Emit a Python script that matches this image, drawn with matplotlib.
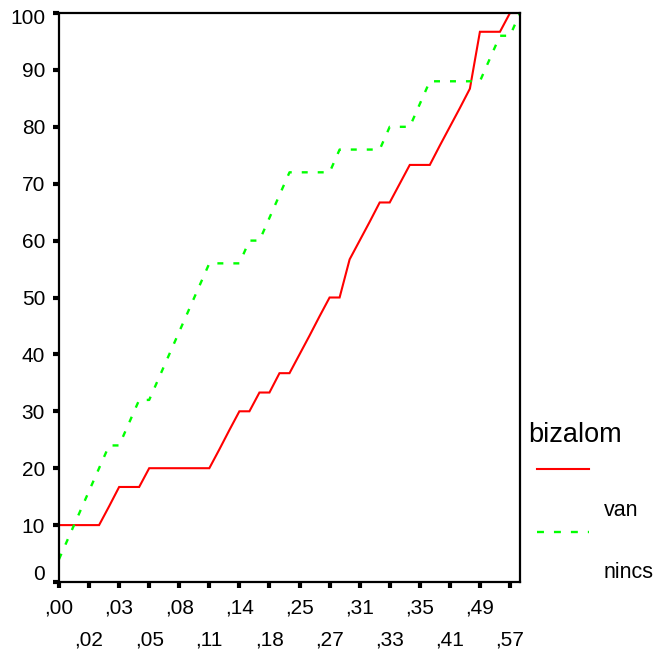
import matplotlib
matplotlib.use("Agg")
import matplotlib.pyplot as plt
from matplotlib.lines import Line2D
from matplotlib.transforms import ScaledTranslation

plt.rcParams["font.family"] = ["Liberation Sans", "DejaVu Sans"]
plt.rcParams["lines.scale_dashes"] = False

# cumulative percent per category (47 categories, every third one labelled)
tick_labels = [",00", ",02", ",03", ",05", ",08", ",11", ",14", ",18",
               ",25", ",27", ",31", ",33", ",35", ",41", ",49", ",57"]

van = [10, 10, 10, 10, 10, 13.3, 16.7, 16.7, 16.7, 20, 20, 20, 20, 20, 20, 20,
       23.3, 26.7, 30, 30, 33.3, 33.3, 36.7, 36.7, 40, 43.3, 46.7, 50, 50,
       56.7, 60, 63.3, 66.7, 66.7, 70, 73.3, 73.3, 73.3, 76.7, 80, 83.3, 86.7,
       96.7, 96.7, 96.7, 100, 100]

nincs = [4, 8, 12, 16, 20, 24, 24, 28, 32, 32, 36, 40, 44, 48, 52, 56,
         56, 56, 56, 60, 60, 64, 68, 72, 72, 72, 72, 72, 76, 76, 76, 76, 76,
         80, 80, 80, 84, 88, 88, 88, 88, 88, 88, 92, 96, 96, 100]

x = list(range(len(van)))

fig = plt.figure(figsize=(6.56, 6.54), dpi=100)
ax = fig.add_axes([59 / 656, 1 - 582 / 654, 461 / 656, 569 / 654])

ax.plot(x, van, color="#ff0000", lw=1.5, solid_joinstyle="miter")
ax.plot(x, nincs, color="#00ff00", lw=1.7, dashes=(4.3, 7.2))

ax.set_xlim(0, len(van) - 1)
ax.set_ylim(0, 100)

ax.set_yticks(range(0, 101, 10))
ax.set_xticks(x[::3])
ax.set_xticklabels([lab if i % 2 == 0 else "\n" + lab
                    for i, lab in enumerate(tick_labels)],
                   linespacing=1.85)

for s in ax.spines.values():
    s.set_linewidth(1.6)
ax.tick_params(axis="both", length=4, width=3, labelsize=15, pad=6,
               color="black")
ax.tick_params(axis="x", pad=8)

# lift the zero label off the x axis
ylabels = ax.get_yticklabels()
ylabels[0].set_transform(ylabels[0].get_transform()
                         + ScaledTranslation(0, 9 / 100, fig.dpi_scale_trans))
ylabels[-1].set_transform(ylabels[-1].get_transform()
                          + ScaledTranslation(0, -4 / 100, fig.dpi_scale_trans))

# legend block on the right
fig.text(528 / 656, 1 - 435 / 654, "bizalom", fontsize=19.5, va="center")
fig.add_artist(Line2D([537 / 656, 589 / 656], [1 - 469 / 654] * 2,
                      color="#ff0000", lw=1.5, transform=fig.transFigure))
fig.text(604 / 656, 1 - 510 / 654, "van", fontsize=15.5, va="center")
fig.add_artist(Line2D([537 / 656, 589 / 656], [1 - 532 / 654] * 2,
                      color="#00ff00", lw=1.7, dashes=(5, 7.2),
                      transform=fig.transFigure))
fig.text(604 / 656, 1 - 572 / 654, "nincs", fontsize=15.5, va="center")

fig.savefig("out.png", dpi=100)
